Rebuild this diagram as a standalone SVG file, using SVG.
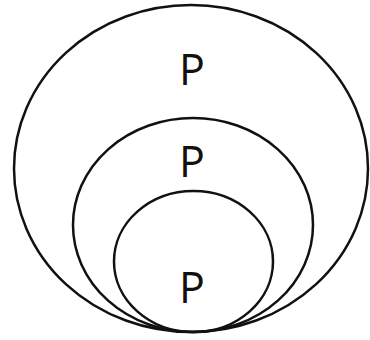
<svg xmlns="http://www.w3.org/2000/svg" width="370" height="340" viewBox="0 0 370 340">
<style>
.c{fill:none;stroke:#111;stroke-width:2.5}
.t{font-family:"Open Sans","Liberation Sans",sans-serif;font-size:43px;fill:#111;text-anchor:middle}
</style>
<rect width="370" height="340" fill="#fff"/>
<g id="outer"><ellipse class="c" cx="191" cy="168.5" rx="177" ry="163.5"/><text class="t" x="192" y="85">P</text></g>
<g id="middle"><ellipse class="c" cx="193" cy="225" rx="120" ry="107"/><text class="t" x="192" y="177">P</text></g>
<g id="inner"><ellipse class="c" cx="193.5" cy="261.5" rx="79.5" ry="70.5"/><text class="t" x="192" y="303">P</text></g>
<g id="connectors"/>
</svg>
